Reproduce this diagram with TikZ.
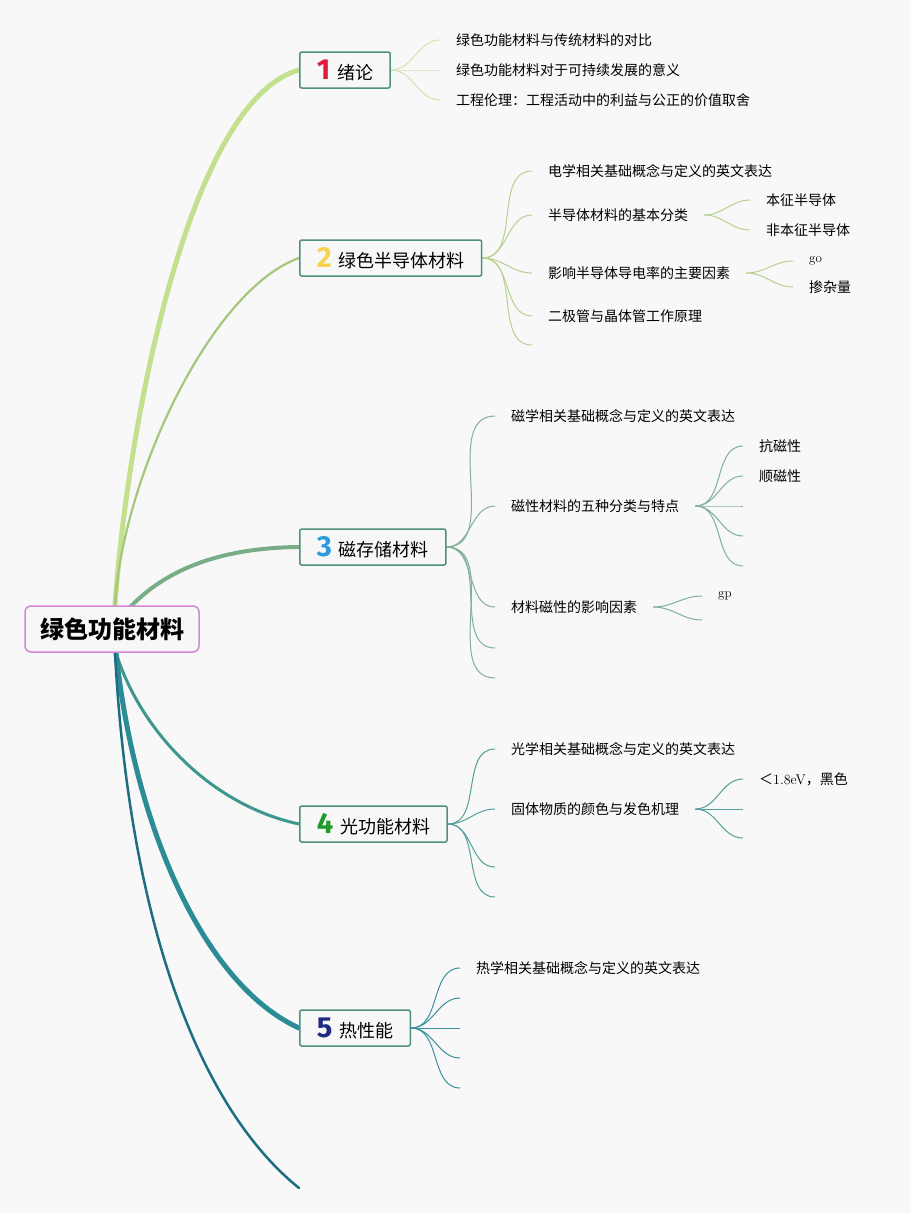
\documentclass[tikz,border=0pt]{standalone}
\usepackage{fontspec}
\newfontfamily\cjk{Noto Sans CJK SC}
\newfontfamily\numfont{Fira Sans}
\definecolor{bgcol}{HTML}{F8F8F8}
\definecolor{boxfill}{HTML}{F6F7F6}
\definecolor{rootline}{HTML}{D487D8}
\definecolor{topicline}{HTML}{4F8F7C}
\definecolor{br1}{HTML}{C3E08F}
\definecolor{br2}{HTML}{A6C67B}
\definecolor{br3}{HTML}{78AD87}
\definecolor{br4}{HTML}{3E978C}
\definecolor{br5}{HTML}{2B8C96}
\definecolor{br6}{HTML}{1D6E80}
\definecolor{sb1}{HTML}{CFE5B2}
\definecolor{sb2}{HTML}{B6D190}
\definecolor{sb3}{HTML}{80B196}
\definecolor{sb4}{HTML}{519F99}
\definecolor{sb5}{HTML}{3D8F9C}
\definecolor{no1}{HTML}{E21B3C}
\definecolor{no2}{HTML}{F6D24E}
\definecolor{no3}{HTML}{2A9BE0}
\definecolor{no4}{HTML}{1E9B2B}
\definecolor{no5}{HTML}{1F2A82}
\newcommand{\topicno}[2]{{\numfont\bfseries\fontsize{29}{29}\selectfont\color{#1}#2}\hspace{7pt}}
\pgfdeclarelayer{bg}
\pgfsetlayers{bg,main}

\begin{document}
\begin{tikzpicture}[x=1pt,y=-1pt,
  root/.style={draw=rootline,fill=boxfill,line width=1.5pt,rounded corners=6pt,minimum height=46pt,inner xsep=15pt,font=\cjk\bfseries\fontsize{24}{24}\selectfont},
  topic/.style={draw=topicline,fill=boxfill,line width=1.5pt,rounded corners=2pt,minimum height=36pt,inner xsep=17pt,inner ysep=0pt,anchor=west,font=\cjk\fontsize{18}{18}\selectfont},
  leaf/.style={anchor=west,inner xsep=16pt,inner ysep=0pt,font=\cjk\fontsize{14}{14}\selectfont},
  latin/.style={leaf,font=\rmfamily\fontsize{13}{13}\selectfont},
  mainbr/.style={line cap=round},
  subbr/.style={line width=1pt,out=0,in=180}]
\useasboundingbox (0,0) rectangle (911,1213);

\node[root] (root) at (112,629) {绿色功能材料};

\node[topic] (t1) at (299,70) {\topicno{no1}{1}绪论};
\node[topic] (t2) at (299,258) {\topicno{no2}{2}绿色半导体材料};
\node[topic] (t3) at (299,547) {\topicno{no3}{3}磁存储材料};
\node[topic] (t4) at (299,824) {\topicno{no4}{4}光功能材料};
\node[topic] (t5) at (299,1028) {\topicno{no5}{5}热性能};
\coordinate (t6) at (299,1188);

\node[leaf] (a1) at (440,40) {绿色功能材料与传统材料的对比};
\node[leaf] (a2) at (440,70) {绿色功能材料对于可持续发展的意义};
\node[leaf] (a3) at (440,100) {工程伦理：工程活动中的利益与公正的价值取舍};

\node[leaf] (b1) at (532,171) {电学相关基础概念与定义的英文表达};
\node[leaf] (b2) at (532,215) {半导体材料的基本分类};
\node[leaf] (b3) at (532,273) {影响半导体导电率的主要因素};
\node[leaf] (b4) at (532,316) {二极管与晶体管工作原理};
\coordinate (b5) at (532,345);
\node[leaf] (b21) at (750,200) {本征半导体};
\node[leaf] (b22) at (750,230) {非本征半导体};
\node[latin] (b31) at (793,261) {go};
\node[leaf] (b32) at (793,287) {掺杂量};

\node[leaf] (c1) at (495,416) {磁学相关基础概念与定义的英文表达};
\node[leaf] (c2) at (495,506) {磁性材料的五种分类与特点};
\node[leaf] (c3) at (495,607) {材料磁性的影响因素};
\coordinate (c4) at (495,648);
\coordinate (c5) at (495,678);
\node[leaf] (c21) at (743,446) {抗磁性};
\node[leaf] (c22) at (743,476) {顺磁性};
\coordinate (c23) at (743,506);
\coordinate (c24) at (743,536);
\coordinate (c25) at (743,566);
\node[latin] (c31) at (702,596) {gp};
\coordinate (c32) at (702,620);

\node[leaf] (d1) at (495,749) {光学相关基础概念与定义的英文表达};
\node[leaf] (d2) at (495,809) {固体物质的颜色与发色机理};
\coordinate (d3) at (495,867);
\coordinate (d4) at (495,897);
\node[leaf] (d21) at (743,779) {＜{\rmfamily 1.8eV}，黑色};
\coordinate (d22) at (743,809);
\coordinate (d23) at (743,838);

\node[leaf] (e1) at (460,968) {热学相关基础概念与定义的英文表达};
\coordinate (e2) at (460,998);
\coordinate (e3) at (460,1028);
\coordinate (e4) at (460,1058);
\coordinate (e5) at (460,1088);

\begin{pgfonlayer}{bg}
\fill[bgcol] (0,0) rectangle (911,1213);
\draw[mainbr,br1,line width=5pt] ([xshift=3pt]root.north) .. controls (128,420) and (190,100) .. (t1.west);
\draw[mainbr,br2,line width=2.2pt] ([xshift=3pt]root.north) .. controls (122,480) and (210,290) .. (t2.west);
\draw[mainbr,br3,line width=4pt] (root.center) .. controls (150,575) and (210,548) .. (t3.west);
\draw[mainbr,br4,line width=3pt] ([xshift=4pt]root.south) .. controls (140,730) and (210,805) .. (t4.west);
\draw[mainbr,br5,line width=5pt] ([xshift=4pt]root.south) .. controls (135,830) and (205,985) .. (t5.west);
\draw[mainbr,br6,line width=2.5pt] ([xshift=3pt]root.south) .. controls (128,900) and (190,1100) .. (t6);
\foreach \c in {a1,a2,a3} \draw[subbr,sb1] (t1) to (\c);
\foreach \c in {b1,b2,b3,b4,b5} \draw[subbr,sb2] (t2) to (\c);
\foreach \c in {b21,b22} \draw[subbr,sb2] (b2) to (\c);
\foreach \c in {b31,b32} \draw[subbr,sb2] (b3) to (\c);
\foreach \c in {c1,c2,c3,c4,c5} \draw[subbr,sb3] (t3) to (\c);
\foreach \c in {c21,c22,c23,c24,c25} \draw[subbr,sb3] (c2) to (\c);
\foreach \c in {c31,c32} \draw[subbr,sb3] (c3) to (\c);
\foreach \c in {d1,d2,d3,d4} \draw[subbr,sb4] (t4) to (\c);
\foreach \c in {d21,d22,d23} \draw[subbr,sb4] (d2) to (\c);
\foreach \c in {e1,e2,e3,e4,e5} \draw[subbr,sb5] (t5) to (\c);
\end{pgfonlayer}
\end{tikzpicture}
\end{document}
